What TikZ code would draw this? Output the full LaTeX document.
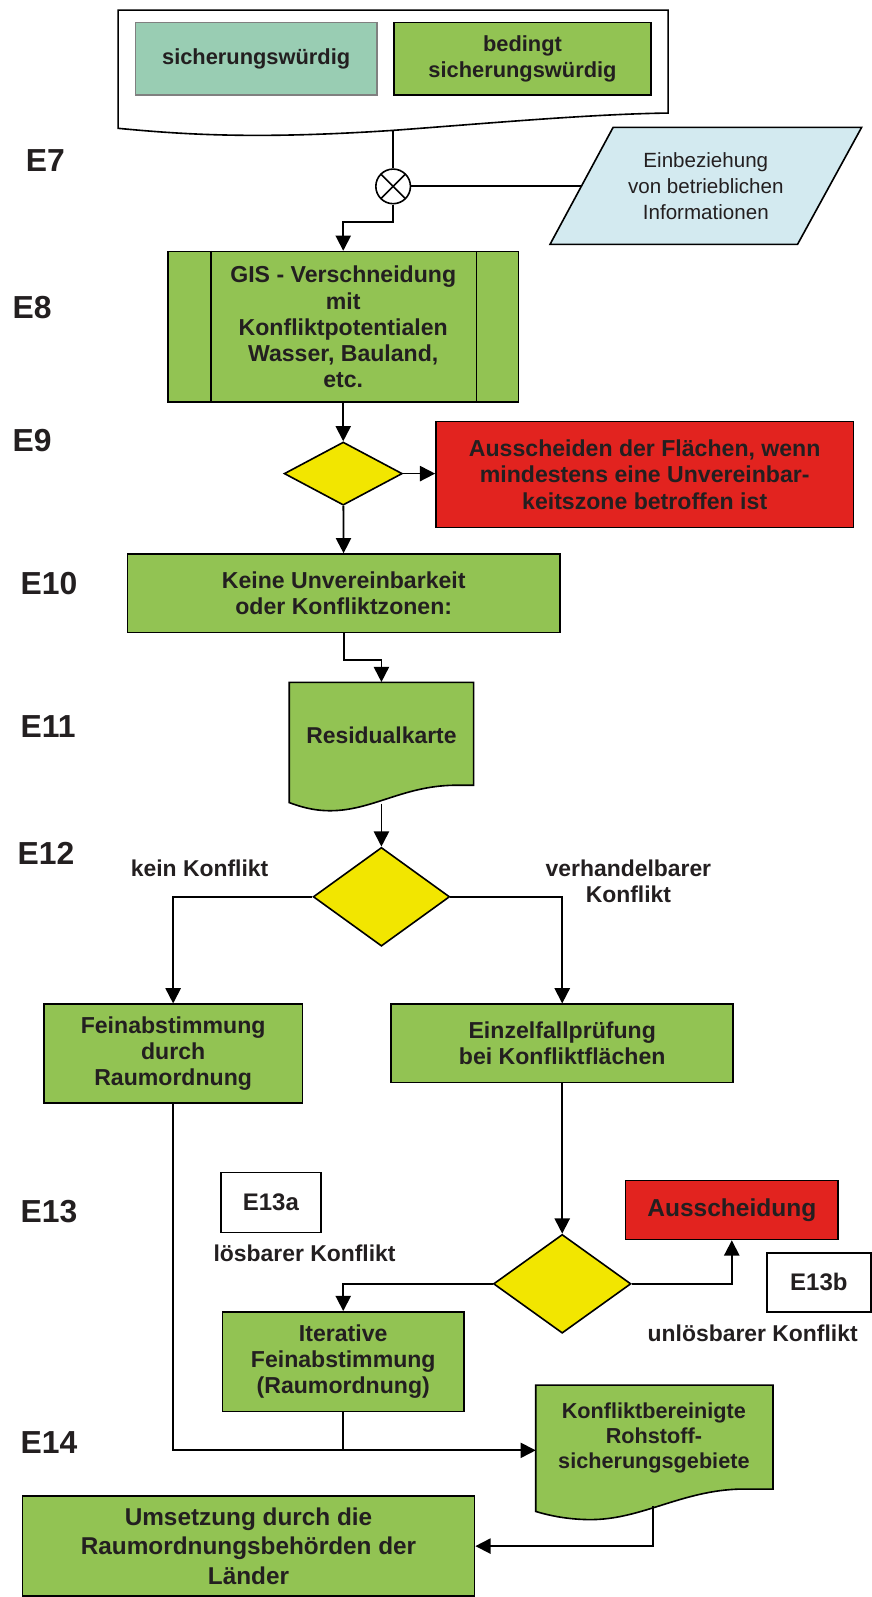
\documentclass[tikz,border=0pt]{standalone}
\usepackage{fontspec}
\setmainfont{Liberation Sans}
\usetikzlibrary{arrows.meta,shapes.geometric}
\definecolor{grn}{HTML}{92C353}
\definecolor{tealg}{HTML}{99CDB3}
\definecolor{yel}{HTML}{F2E600}
\definecolor{rd}{HTML}{E2231F}
\definecolor{lblue}{HTML}{D3EAF0}
\definecolor{txt}{HTML}{231F20}
\begin{document}
\begin{tikzpicture}[x=0.02cm, y=-0.02cm,
  every node/.style={text=txt},
  box/.style={draw, fill=grn, line width=0.9pt, align=center, inner sep=0pt, font=\bfseries\fontsize{12.9}{14.6}\selectfont},
  redbox/.style={box, fill=rd},
  tag/.style={draw, fill=white, line width=0.9pt, inner sep=0pt, font=\bfseries\fontsize{13.4}{15}\selectfont},
  dec/.style={diamond, draw, fill=yel, line width=0.9pt, inner sep=0pt},
  lbl/.style={align=center, font=\bfseries\fontsize{12.8}{14.6}\selectfont},
  elabel/.style={anchor=west, inner sep=0pt, font=\bfseries\fontsize{17.8}{20}\selectfont},
  conn/.style={line width=1pt},
  arr/.style={conn, -{Triangle[length=8.5pt,width=8.5pt]}}
]
\useasboundingbox (0,0) rectangle (856,1568);

\draw[line width=0.9pt, fill=white] (116,10) -- (656,10) -- (656,111) .. controls (580,112) and (480,121) .. (386,128) .. controls (250,137) and (180,132) .. (116,126) -- cycle;
\coordinate (topb) at (386,128);
\node[box, fill=tealg, draw=black!50, minimum width=4.74cm, minimum height=1.42cm, font=\bfseries\fontsize{12.2}{14.7}\selectfont] (sw) at (251.5,57.5) {sicherungswürdig};
\node[box, minimum width=5.04cm, minimum height=1.42cm, font=\bfseries\fontsize{12.2}{14.7}\selectfont] (bsw) at (513,57.5) {bedingt\\sicherungswürdig};

\node[circle, draw, fill=white, line width=0.9pt, minimum size=0.68cm, inner sep=0pt, path picture={\draw[line width=0.9pt] (path picture bounding box.north west) -- (path picture bounding box.south east) (path picture bounding box.north east) -- (path picture bounding box.south west);}] (mix) at (386,183) {};
\draw[line width=0.9pt, fill=lblue] (602,125) -- (846,125) -- (783,240) -- (540,240) -- cycle;
\coordinate (infol) at (571,183);
\node[align=center, font=\fontsize{11.5}{14.5}\selectfont] (info) at (693,183) {Einbeziehung\\von betrieblichen\\Informationen};

\node[box, minimum width=6.88cm, minimum height=2.96cm] (gis) at (337,321) {GIS - Verschneidung\\mit\\Konfliktpotentialen\\Wasser, Bauland,\\etc.};
\draw[line width=0.9pt] ([xshift=0.86cm]gis.north west) -- ([xshift=0.86cm]gis.south west);
\draw[line width=0.9pt] ([xshift=-0.84cm]gis.north east) -- ([xshift=-0.84cm]gis.south east);
\node[dec, minimum width=2.32cm, minimum height=1.24cm] (d1) at (337,465) {};
\node[redbox, minimum width=8.2cm, minimum height=2.08cm] (aus1) at (633,466) {Ausscheiden der Flächen, wenn\\mindestens eine Unvereinbar-\\keitszone betroffen ist};
\node[box, minimum width=8.5cm, minimum height=1.54cm] (e10) at (337.5,582.5) {Keine Unvereinbarkeit\\oder Konfliktzonen:};

\draw[line width=0.9pt, fill=grn] (284,670) -- (465,670) -- (465,771) -- (445,771) .. controls (395,772) and (365,796) .. (324,796) .. controls (306,796) and (292,791) .. (284,788) -- cycle;
\node[lbl, minimum width=3.62cm, minimum height=2.08cm, inner sep=0pt] (res) at (374.5,722) {Residualkarte};
\coordinate (resb) at (374.5,789);
\node[dec, minimum width=2.68cm, minimum height=1.94cm] (d2) at (374.5,880.5) {};
\node[lbl] (kk) at (196,853) {kein Konflikt};
\node[lbl] (vk) at (617,865) {verhandelbarer\\Konflikt};
\node[box, minimum width=5.08cm, minimum height=1.94cm] (fein) at (170,1034.5) {Feinabstimmung\\durch\\Raumordnung};
\node[box, minimum width=6.72cm, minimum height=1.54cm] (einz) at (552,1024.5) {Einzelfallprüfung\\bei Konfliktflächen};

\node[dec, minimum width=2.7cm, minimum height=1.94cm] (d3) at (552,1260.5) {};
\node[redbox, minimum width=4.18cm, minimum height=1.16cm, font=\bfseries\fontsize{13.7}{15}\selectfont] (aus2) at (718.5,1188) {Ausscheidung};
\node[tag, minimum width=2.04cm, minimum height=1.16cm] (e13b) at (804,1259) {E13b};
\node[lbl] (ul) at (739,1309) {unlösbarer Konflikt};
\node[tag, minimum width=1.96cm, minimum height=1.18cm] (e13a) at (266,1180.5) {E13a};
\node[lbl] (lk) at (299,1231) {lösbarer Konflikt};
\node[box, minimum width=4.74cm, minimum height=1.96cm] (iter) at (337,1337) {Iterative\\Feinabstimmung\\(Raumordnung)};

\draw[line width=0.9pt, fill=grn] (526,1360) -- (759,1360) -- (759,1462) -- (728,1462) .. controls (670,1463) and (630,1492) .. (580,1492) .. controls (555,1492) and (536,1487) .. (526,1484) -- cycle;
\node[lbl, minimum width=4.66cm, minimum height=2.08cm, inner sep=0pt, font=\bfseries\fontsize{12.1}{13.9}\selectfont] (kb) at (642,1412) {Konfliktbereinigte\\Rohstoff-\\sicherungsgebiete};
\coordinate (kbin) at (526,1424);
\coordinate (kbb) at (641,1479);
\node[box, minimum width=8.88cm, minimum height=1.96cm, font=\bfseries\fontsize{13.6}{16.4}\selectfont] (ums) at (244,1518) {Umsetzung durch die\\Raumordnungsbehörden der\\Länder};

\foreach \n/\x/\y in {7/25/158, 8/12/302, 9/12/433, 10/20/573, 11/20/713, 12/17/838, 13/20/1190, 14/20/1416}
  \node[elabel] (lE\n) at (\x,\y) {E\n};

\draw[conn] (topb) -- (mix);
\draw[conn] (mix) -- (infol);
\draw[arr] (mix.south) -- ++(0,17) -| (gis.north);
\draw[arr] (gis) -- (d1);
\draw[arr] (d1.east) -- (d1.east -| aus1.west);
\draw[arr] (d1) -- (e10);
\draw[arr] (e10.south) -- ++(0,26) -| (res.north);
\draw[arr] (resb) -- (d2);
\draw[arr] (d2.west) -| (fein.north);
\draw[arr] (d2.east) -| (einz.north);
\draw[arr] (einz) -- (d3);
\draw[arr] (d3.east) -| (aus2.south);
\draw[arr] (d3.west) -| (iter.north);
\draw[arr] (fein.south) |- (kbin);
\draw[conn] (iter.south) -- (iter.south |- kbin);
\draw[arr] (kbb) |- (ums.east);
\end{tikzpicture}
\end{document}
